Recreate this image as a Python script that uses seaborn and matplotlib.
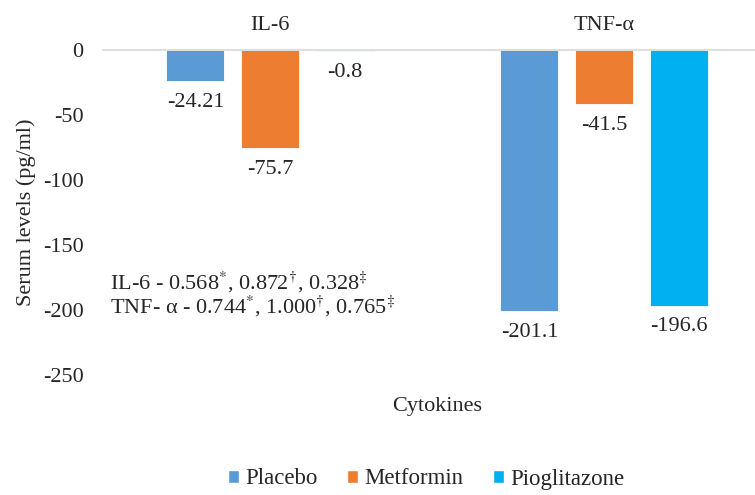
import matplotlib
matplotlib.use("Agg")
import matplotlib.pyplot as plt
import seaborn as sns
import pandas as pd
from matplotlib.patches import Patch

cytokines = ["IL-6", "TNF-\u03b1"]
groups = ["Placebo", "Metformin", "Pioglitazone"]
placebo = [-24.21, -201.1]
metformin = [-75.7, -41.5]
pioglitazone = [-0.8, -196.6]
label_text = ["-24.21", "-201.1", "-75.7", "-41.5", "-0.8", "-196.6"]
colors = ["#5B9BD5", "#ED7D31", "#00B0F0"]

df = pd.DataFrame({
    "Cytokine": cytokines * 3,
    "Group": [g for g in groups for _ in cytokines],
    "Value": placebo + metformin + pioglitazone,
})

sns.set_style("white")
plt.rcParams["font.family"] = ["Liberation Serif", "DejaVu Serif"]
plt.rcParams["mathtext.fontset"] = "stix"

fig = plt.figure(figsize=(7.55, 4.95), dpi=100)
# plot area runs past the right edge like the cropped original
ax = fig.add_axes([103 / 755, 120 / 495, 668 / 755, 325 / 495])

sns.barplot(data=df, x="Cytokine", y="Value", hue="Group", palette=colors,
            saturation=1, width=0.67, gap=0.22, ax=ax, legend=False, errorbar=None,
            edgecolor="white", linewidth=0.6)

ax.set_xlim(-0.5, 1.5)
ax.set_ylim(-250, 0)
ax.set_yticks([0, -50, -100, -150, -200, -250])
ax.set_yticklabels(["0", "-50", "-100", "-150", "-200", "-250"])
ax.xaxis.tick_top()
ax.tick_params(axis="x", length=0, pad=11, labelsize=16)
ax.tick_params(axis="y", length=0, pad=14, labelsize=16)

for s in ["left", "right", "bottom"]:
    ax.spines[s].set_visible(False)
ax.spines["top"].set_color("#D9D9D9")
ax.spines["top"].set_linewidth(1.2)

# data labels below the bar ends
k = 0
for cont in ax.containers:
    for bar in cont:
        ax.annotate(label_text[k], (bar.get_x() + bar.get_width() / 2, bar.get_height()),
                    xytext=(0, -8.5), textcoords="offset points",
                    ha="center", va="top", fontsize=16)
        k += 1

ax.set_ylabel("Serum levels (pg/ml)", fontsize=16, labelpad=5)
ax.set_xlabel("")
fig.text(437 / 755, 1 - 407 / 495, "Cytokines", ha="center", va="center", fontsize=16)

fig.text(110 / 755, 1 - 282 / 495,
         r"IL-6 - 0.568$^{*}$, 0.872$^{\dagger}$, 0.328$^{\ddagger}$",
         ha="left", va="center", fontsize=16)
fig.text(110 / 755, 1 - 306 / 495,
         "TNF- \u03b1 - 0.744$^{*}$, 1.000$^{\\dagger}$, 0.765$^{\\ddagger}$",
         ha="left", va="center", fontsize=16)

handles = [Patch(facecolor=c, label=g) for c, g in zip(colors, groups)]
fig.legend(handles=handles, loc="center", bbox_to_anchor=(426 / 755, 1 - 479 / 495),
           ncol=3, frameon=False, prop={"family": "Liberation Serif", "size": 16.5},
           handlelength=0.5, handleheight=0.5, handletextpad=0.25, columnspacing=1.3)

fig.savefig("out.png", dpi=100)
